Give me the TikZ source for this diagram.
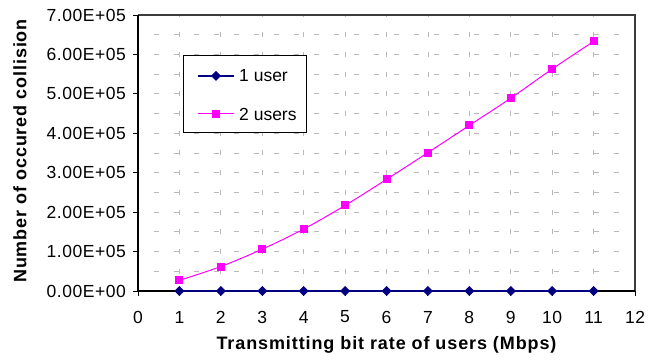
\documentclass[tikz,border=0pt]{standalone}
\usepackage{fontspec}
\setmainfont{Liberation Sans}
\usetikzlibrary{calc}
\definecolor{navyline}{RGB}{0,0,128}
\definecolor{magline}{RGB}{255,0,255}
\definecolor{gridgray}{RGB}{185,185,185}
\definecolor{framegray}{RGB}{60,60,60}
\tikzset{
  hgrid/.style={gridgray, line width=0.8bp, dash pattern=on 5bp off 15bp, dash phase=4bp},
  vgrid/.style={gridgray, line width=0.8bp, dash pattern=on 5bp off 14.715bp, dash phase=2.5bp},
  ticklabel/.style={font=\fontsize{17.5bp}{20bp}\selectfont\addfontfeature{LetterSpace=3}, inner sep=0pt},
  axistitle/.style={font=\fontsize{18bp}{21bp}\selectfont\bfseries\addfontfeature{LetterSpace=5}, inner sep=0pt},
  legendtext/.style={font=\fontsize{17.5bp}{20bp}\selectfont, inner sep=0pt, anchor=west},
  oneuser/.style={navyline, line width=1.1bp},
  twousers/.style={magline, line width=1bp},
  sqmark/.pic={\fill[magline] (-4bp,-4bp) rectangle (4bp,4bp);},
  dmmark/.pic={\fill[navyline] (0,5bp) -- (5bp,0) -- (0,-5bp) -- (-5bp,0) -- cycle;},
}
\begin{document}
\begin{tikzpicture}[x=41.42bp, y=39.43bp]
  \useasboundingbox (-138bp,-69bp) rectangle (523bp,291bp);
  % grid: horizontal every 0.5E+05, vertical every unit
  \foreach \yy in {0.5,1,...,6.5}
    \draw[hgrid] (0,\yy) -- (12,\yy);
  \foreach \xx in {1,...,11}
    \draw[vgrid] (\xx,0) -- (\xx,7);
  % plot frame and axes
  \draw[framegray, line width=1.2bp] (0,7) -- (12,7) -- (12,0);
  \draw[black, line width=1.1bp] (0,7) -- (0,0) -- (12,0);
  % ticks
  \foreach \yy in {0,...,7}
    \draw[black, line width=0.9bp] (0,\yy) -- ++(-5bp,0);
  \foreach \xx in {0,...,12}
    \draw[black, line width=0.9bp] (\xx,0) -- ++(0,-5bp);
  % tick labels
  \foreach \yy in {0,...,7}
    \node[ticklabel, anchor=east] (yl\yy) at ([xshift=-12bp]0,\yy) {\yy.00E+0\ifnum\yy=0 0\else5\fi};
  \foreach \xx in {0,...,12}
    \node[ticklabel] (xl\xx) at ([yshift=-26bp]\xx,0) {\xx};
  % axis titles
  \node[axistitle] (xtitle) at ([yshift=-54bp]6,0) {Transmitting bit rate of users (Mbps)};
  \node[axistitle, rotate=90] (ytitle) at (-118bp,140bp) {Number of occured collision};
  % 2 users series (smoothed)
  \draw[twousers] plot[smooth, tension=0.5] coordinates {
    (1,0.27) (2,0.62) (3,1.06) (4,1.57) (5,2.17) (6,2.83)
    (7,3.51) (8,4.20) (9,4.89) (10,5.63) (11,6.33)};
  \foreach \xx/\yy in {1/0.27,2/0.62,3/1.06,4/1.57,5/2.17,6/2.83,7/3.51,8/4.20,9/4.89,10/5.63,11/6.33}
    \pic at (\xx,\yy) {sqmark};
  % 1 user series
  \draw[oneuser] (1,0) -- (11,0);
  \foreach \xx in {1,...,11}
    \pic at (\xx,0) {dmmark};
  % legend
  \node[draw=black, fill=white, line width=0.8bp, minimum width=123bp, minimum height=77bp, inner sep=0pt, anchor=north west] (legend) at (45bp,236bp) {};
  \coordinate (l1a) at (60bp,215bp);
  \coordinate (l1b) at (96bp,215bp);
  \coordinate (l2a) at (60bp,177bp);
  \coordinate (l2b) at (96bp,177bp);
  \draw[oneuser] (l1a) -- (l1b);
  \pic at ($(l1a)!0.5!(l1b)$) {dmmark};
  \draw[twousers] (l2a) -- (l2b);
  \pic at ($(l2a)!0.5!(l2b)$) {sqmark};
  \node[legendtext] (lt1) at ([xshift=5bp]l1b) {1 user};
  \node[legendtext] (lt2) at ([xshift=5bp]l2b) {2 users};
\end{tikzpicture}
\end{document}
